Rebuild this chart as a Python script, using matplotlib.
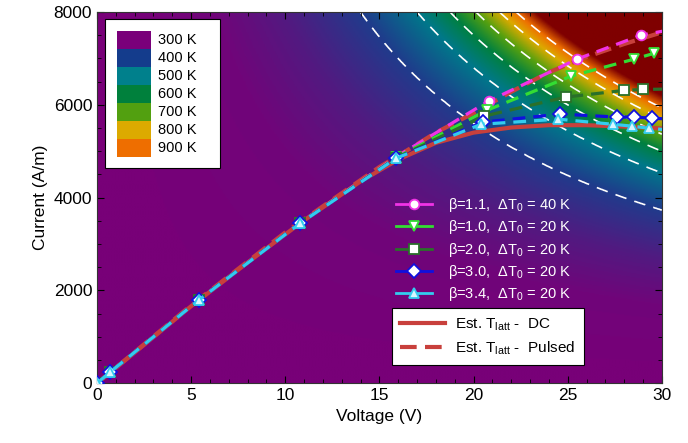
import numpy as np
import matplotlib
matplotlib.use('Agg')
import matplotlib.pyplot as plt
from matplotlib.colors import LinearSegmentedColormap
from matplotlib.patches import Patch
from matplotlib.lines import Line2D
from matplotlib.ticker import MultipleLocator

plt.rcParams['font.family'] = ['Liberation Sans', 'DejaVu Sans']
plt.rcParams['mathtext.fontset'] = 'custom'
plt.rcParams['mathtext.rm'] = 'Liberation Sans'

# isotherms: dissipated power (V*A/m) -> lattice temperature (K)
P_iso = [0, 50e3, 80e3, 112e3, 136e3, 150e3, 161e3, 171e3, 178e3, 186e3, 400e3]
T_iso = [300, 310, 345, 400, 500, 600, 700, 800, 900, 1000, 1000]
T_levels = [400, 500, 600, 700, 800, 900]

temp_labels = ['300 K', '400 K', '500 K', '600 K', '700 K', '800 K', '900 K']
temp_colors = ['#7a007a', '#143c8c', '#00808c', '#00803c', '#52a010', '#dcaa00', '#ee6e00']

# measured / simulated I-V points
V_b11 = [0, 0.7, 5.4, 10.8, 15.9, 20.8, 25.5, 28.9, 30.5]
I_b11 = [0, 240, 1800, 3460, 4880, 6080, 6985, 7500, 7620]
V_b10 = [0, 0.7, 5.4, 10.8, 15.9, 20.7, 25.2, 28.5, 29.6, 30.5]
I_b10 = [0, 240, 1795, 3455, 4865, 5880, 6620, 6980, 7110, 7170]
V_b20 = [0, 0.7, 5.4, 10.8, 15.9, 20.55, 24.9, 28.0, 29.0, 30.5]
I_b20 = [0, 240, 1795, 3450, 4855, 5755, 6165, 6310, 6330, 6340]
V_b30 = [0, 0.7, 5.4, 10.8, 15.9, 20.5, 24.6, 27.6, 28.5, 29.5, 30.5]
I_b30 = [0, 240, 1790, 3450, 4850, 5625, 5800, 5735, 5735, 5710, 5690]
V_b34 = [0, 0.7, 5.4, 10.8, 15.9, 20.4, 24.5, 27.4, 28.4, 29.3, 30.5]
I_b34 = [0, 240, 1790, 3450, 4850, 5580, 5690, 5580, 5540, 5495, 5450]

V_dc = [0, 2, 5, 8, 11, 14, 16, 18, 20, 22, 24, 26, 28, 30]
I_dc = [0, 660, 1660, 2600, 3510, 4350, 4820, 5180, 5400, 5510, 5560, 5560, 5530, 5490]
V_pul = [0, 5, 10, 15, 16, 18, 20, 22, 24, 26, 28, 30]
I_pul = [0, 1680, 3250, 4660, 4900, 5400, 5820, 6280, 6700, 7030, 7310, 7560]

fig = plt.figure(figsize=(6.88, 4.43), dpi=100)
ax = fig.add_axes([0.141, 0.135, 0.821, 0.838])

# background temperature map
vg = np.linspace(0, 30, 400)
ig = np.linspace(0, 8000, 400)
VV, II = np.meshgrid(vg, ig)
TT = np.interp(VV * II, P_iso, T_iso)
cmap = LinearSegmentedColormap.from_list(
    'tlatt',
    [(0.0, '#780078'), (1/7, '#1f3c8c'), (2/7, '#00788a'), (3/7, '#008040'),
     (4/7, '#55a010'), (5/7, '#dcaa00'), (6/7, '#ee6e00'), (1.0, '#7f0000')])
ax.imshow(TT, origin='lower', extent=[0, 30, 0, 8000], aspect='auto',
          cmap=cmap, vmin=300, vmax=1000, interpolation='bilinear', zorder=0)
ax.contour(VV, II, TT, levels=T_levels, colors='white', linewidths=1.2,
           linestyles=[(0, (7, 5))] * len(T_levels), zorder=1)

# lattice temperature estimates
ax.plot(V_dc, I_dc, color='#c8403c', lw=3, zorder=2)
ax.plot(V_pul, I_pul, color='#c8403c', lw=3, ls=(0, (4, 2)), zorder=2)

series = [
    (V_b11, I_b11, '#f033e6', 'o', 'white', r'β=1.1,  ΔT$_0$ = 40 K'),
    (V_b10, I_b10, '#33dd33', 'v', 'white', r'β=1.0,  ΔT$_0$ = 20 K'),
    (V_b20, I_b20, '#2a702a', 's', 'white', r'β=2.0,  ΔT$_0$ = 20 K'),
    (V_b30, I_b30, '#1010dd', 'D', 'white', r'β=3.0,  ΔT$_0$ = 20 K'),
    (V_b34, I_b34, '#33ccee', '^', '#d8f6ff', r'β=3.4,  ΔT$_0$ = 20 K'),
]
handles = []
for v, i, c, m, fc, lab in series:
    ax.plot(v, i, color=c, lw=2.3, ls=(0, (4, 2.5)), marker=m, ms=7,
            mfc=fc, mec=c, mew=1.3, zorder=3)
    handles.append(Line2D([], [], color=c, lw=2, marker=m, ms=7,
                          mfc=fc, mec=c, mew=1.3))

ax.set_xlim(0, 30)
ax.set_ylim(0, 8000)
ax.set_xlabel('Voltage (V)', fontsize=12.5)
ax.set_ylabel('Current (A/m)', fontsize=12.5)
ax.xaxis.set_major_locator(MultipleLocator(5))
ax.xaxis.set_minor_locator(MultipleLocator(1))
ax.yaxis.set_major_locator(MultipleLocator(2000))
ax.yaxis.set_minor_locator(MultipleLocator(500))
ax.tick_params(which='both', direction='in', top=True, right=True, labelsize=12.5)
ax.tick_params(which='major', length=5)
ax.tick_params(which='minor', length=3)
for s in ax.spines.values():
    s.set_color('#333333')

# legends
leg1 = ax.legend([Patch(facecolor=c, edgecolor='none') for c in temp_colors],
                 [t + '   ' for t in temp_labels],
                 loc='upper left', bbox_to_anchor=(0.014, 0.981), borderaxespad=0,
                 frameon=True, fancybox=False, edgecolor='black', framealpha=1,
                 handlelength=2.33, handleheight=1.52, labelspacing=0,
                 handletextpad=0.5, borderpad=0.8, fontsize=10.5)
leg1.get_frame().set_linewidth(0.8)
ax.add_artist(leg1)

leg2 = ax.legend(handles, [s[5] for s in series], loc='upper left',
                 bbox_to_anchor=(0.519, 0.52), borderaxespad=0, frameon=False,
                 fontsize=10.5, handlelength=2.47, labelspacing=0.3,
                 handletextpad=1.1)
for t in leg2.get_texts():
    t.set_color('white')
ax.add_artist(leg2)

red_h = [Line2D([], [], color='#c8403c', lw=3),
         Line2D([], [], color='#c8403c', lw=3, ls=(0, (4, 2)))]
leg3 = ax.legend(red_h, [r'Est. T$_{\rm latt}$ -  DC', r'Est. T$_{\rm latt}$ -  Pulsed'],
                 loc='lower left', bbox_to_anchor=(0.522, 0.0485), borderaxespad=0,
                 frameon=True, fancybox=False, edgecolor='black', framealpha=1,
                 fontsize=11, handlelength=2.9, labelspacing=0.4, borderpad=0.55,
                 handletextpad=0.7)
leg3.get_frame().set_linewidth(0.8)

fig.savefig('out.png', dpi=100)
